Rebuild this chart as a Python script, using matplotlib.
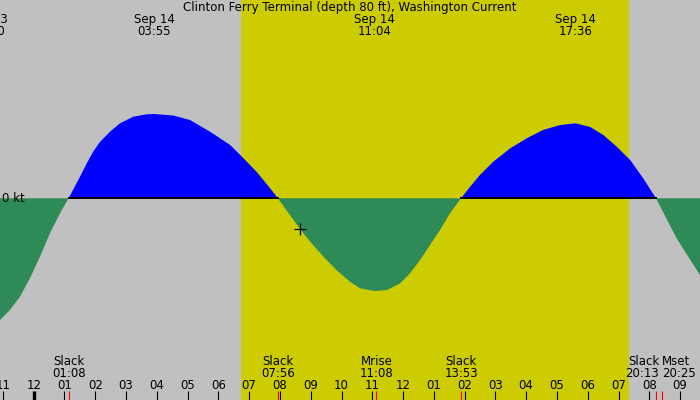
import matplotlib
matplotlib.use("Agg")
import matplotlib.pyplot as plt
import numpy as np

# hours since Sep 14 00:00, current speed in knots (flood +, ebb -)
hours = [-1.095, -0.770, -0.445, -0.120, 0.205, 0.530, 0.854, 1.133, 1.504, 1.722,
         1.936, 2.154, 2.479, 2.804, 3.236, 3.671, 3.917, 4.535, 5.078, 5.728,
         6.378, 6.810, 7.245, 7.677, 7.933, 8.327, 8.652, 8.977, 9.409, 9.844,
         10.276, 10.601, 11.067, 11.469, 11.901, 12.226, 12.550, 12.875, 13.200, 13.525,
         13.883, 14.175, 14.500, 14.932, 15.474, 16.017, 16.556, 17.099, 17.600, 18.074,
         18.506, 18.941, 19.376, 19.805, 20.217, 20.890, 21.647]
speed = [-2.03, -1.86, -1.64, -1.33, -0.97, -0.58, -0.25, 0.0, 0.36, 0.58,
         0.78, 0.94, 1.11, 1.25, 1.36, 1.40, 1.405, 1.38, 1.305, 1.11,
         0.89, 0.67, 0.44, 0.17, 0.0, -0.28, -0.51, -0.72, -0.97, -1.20,
         -1.39, -1.50, -1.545, -1.53, -1.42, -1.25, -1.03, -0.78, -0.53, -0.25,
         0.0, 0.19, 0.39, 0.61, 0.83, 1.00, 1.14, 1.22, 1.25, 1.19,
         1.055, 0.86, 0.64, 0.33, 0.0, -0.67, -1.28]

# max current labels (top)
peak_hours = [-1.5, 3.917, 11.067, 17.6]
peak_labels = ["Sep 13\n22:30", "Sep 14\n03:55", "Sep 14\n11:04", "Sep 14\n17:36"]

# events (bottom)
event_hours = [1.133, 7.933, 11.133, 13.883, 20.217, 20.417]
event_names = ["Slack", "Slack", "Mrise", "Slack", "Slack", "Mset"]
event_times = ["01:08", "07:56", "11:08", "13:53", "20:13", "20:25"]
event_align = ["center", "center", "center", "center", "right", "left"]

sunrise = 6.735
sunset = 19.34
now_hour, now_speed = 8.652, -0.51

tick_hours = list(range(-1, 22))

x0, x1 = -1.095, 21.647
px_per_kt = 60.0
y_top = 198.3 / px_per_kt
y_bot = -(400 - 198.3) / px_per_kt

fig = plt.figure(figsize=(7, 4), dpi=100)
ax = fig.add_axes([0, 0, 1, 1])
ax.set_xlim(x0, x1)
ax.set_ylim(y_bot, y_top)
ax.axis("off")
ax.add_patch(plt.Rectangle((x0, y_bot), x1 - x0, y_top - y_bot, color="#c0c0c0", zorder=0))
ax.axvspan(sunrise, sunset, color="#cccc00", zorder=1, lw=0)

h = np.array(hours)
v = np.array(speed)
ax.fill_between(h, v, 0, where=v >= 0, interpolate=True, color="#0000ff", lw=0, zorder=2)
ax.fill_between(h, v, 0, where=v <= 0, interpolate=True, color="#2e8b57", lw=0, zorder=2)
ax.plot(h, np.where(v >= 0, 0, np.nan), color="black", lw=1.4, zorder=3)
ax.plot(now_hour, now_speed, marker="+", color="black", ms=8, mew=0.9, zorder=4)

fs = 8.5
ax.text(0.003, 0, "0 kt", fontsize=fs, ha="left", va="center", zorder=5,
        transform=ax.get_yaxis_transform())

tr = ax.get_xaxis_transform()
ax.text(0.5, 1 - 7.5 / 400, "Clinton Ferry Terminal (depth 80 ft), Washington Current",
        transform=ax.transAxes, ha="center", va="center", fontsize=fs)
for ph, lab in zip(peak_hours, peak_labels):
    l1, l2 = lab.split("\n")
    ax.text(ph, 1 - 20 / 400, l1, transform=tr, ha="center", va="center", fontsize=fs)
    ax.text(ph, 1 - 31.5 / 400, l2, transform=tr, ha="center", va="center", fontsize=fs)

for eh, en, et, al in zip(event_hours, event_names, event_times, event_align):
    tx = eh + {"center": 0, "right": 0.1, "left": 0.0}[al]
    ax.text(tx, 1 - 361.5 / 400, en, transform=tr, ha=al, va="center", fontsize=fs)
    ax.text(tx, 1 - 373.5 / 400, et, transform=tr, ha=al, va="center", fontsize=fs)
    ax.vlines(eh, 0, 9 / 400, transform=tr, color="red", lw=0.8, zorder=6)

for th in tick_hours:
    lab = "%02d" % ((th - 1) % 12 + 1)
    ax.text(th, 1 - 385.5 / 400, lab, transform=tr, ha="center", va="center", fontsize=fs)
    ax.vlines(th, 0, 9 / 400, transform=tr, color="black",
              lw=2.4 if th % 24 == 0 else 0.8, zorder=5)

fig.savefig("out.png", dpi=100)
